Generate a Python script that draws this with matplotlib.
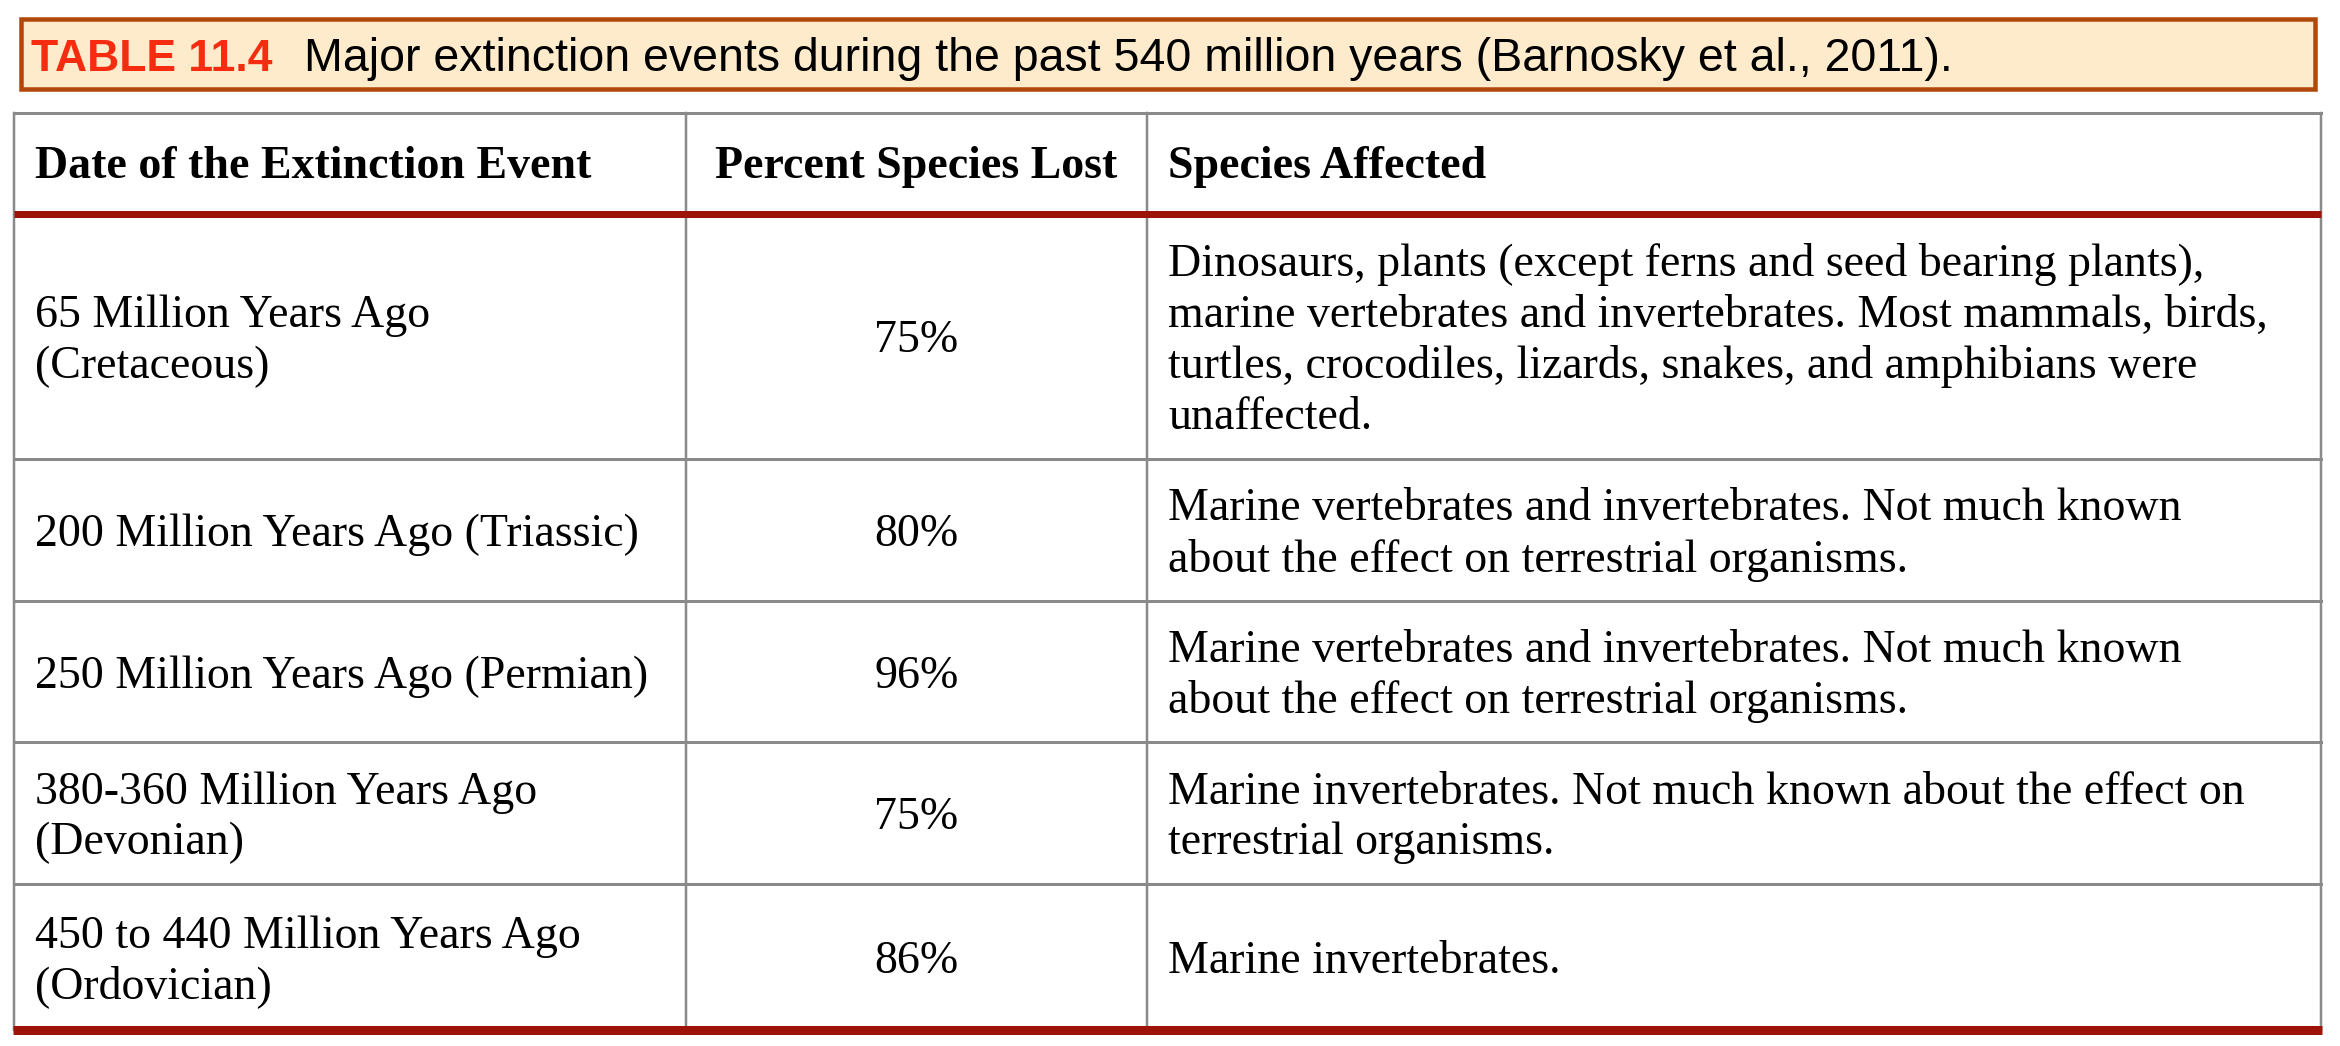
import matplotlib
matplotlib.use("Agg")
import matplotlib.pyplot as plt
from matplotlib.patches import Rectangle

# table content
title_label = "TABLE 11.4"
title_text = "Major extinction events during the past 540 million years (Barnosky et al., 2011)."
headers = ["Date of the Extinction Event", "Percent Species Lost", "Species Affected"]
dates = [
    "65 Million Years Ago\n(Cretaceous)",
    "200 Million Years Ago (Triassic)",
    "250 Million Years Ago (Permian)",
    "380-360 Million Years Ago\n(Devonian)",
    "450 to 440 Million Years Ago\n(Ordovician)",
]
percent_lost = [75, 80, 96, 75, 86]
species_affected = [
    "Dinosaurs, plants (except ferns and seed bearing plants),\n"
    "marine vertebrates and invertebrates. Most mammals, birds,\n"
    "turtles, crocodiles, lizards, snakes, and amphibians were\n"
    "unaffected.",
    "Marine vertebrates and invertebrates. Not much known\n"
    "about the effect on terrestrial organisms.",
    "Marine vertebrates and invertebrates. Not much known\n"
    "about the effect on terrestrial organisms.",
    "Marine invertebrates. Not much known about the effect on\n"
    "terrestrial organisms.",
    "Marine invertebrates.",
]

W, H = 2340, 1046
fig = plt.figure(figsize=(W / 100, H / 100), dpi=100)
ax = fig.add_axes([0, 0, 1, 1])
ax.set_xlim(0, W)
ax.set_ylim(H, 0)
ax.axis("off")

PX = 0.72  # points per pixel at dpi 100
SERIF = "Liberation Serif"
SANS = "Liberation Sans"
RED = "#9c1407"
GRAY = "#8a8a8a"

# title box
ax.add_patch(Rectangle((21, 19), 2294, 70, facecolor="#fdebcb",
                       edgecolor="#b0480a", linewidth=4.5 * PX))
t1 = ax.text(31, 71, title_label, fontsize=32, fontweight="bold",
             color="#f52c10", family=SANS, va="baseline")
fig.canvas.draw()
bb = t1.get_window_extent().transformed(ax.transData.inverted())
ax.text(bb.x1 + 31, 71, title_text, fontsize=33.5, color="black",
        family=SANS, va="baseline")

# grid geometry
col_edges = [14, 686, 1147, 2321]
row_edges = [113, 214, 459, 601, 742, 884, 1030]
line_gap = 51
pad = 21


def cell_text(txt, col, r0, r1, bold=False, cap=16):
    lines = txt.split("\n")
    mid = (r0 + r1) / 2 + cap
    first = mid - (len(lines) - 1) * line_gap / 2
    for i, ln in enumerate(lines):
        y = first + i * line_gap
        if col == 1:
            x, ha = (col_edges[1] + col_edges[2]) / 2, "center"
        else:
            x, ha = col_edges[col] + pad, "left"
        ax.text(x, y, ln, fontsize=33, family=SERIF, ha=ha, va="baseline",
                fontweight="bold" if bold else "normal", color="black")


# header
for c, h in enumerate(headers):
    cell_text(h, c, row_edges[0], row_edges[1], bold=True, cap=14)

# body rows
for r in range(len(dates)):
    r0, r1 = row_edges[r + 1], row_edges[r + 2]
    cell_text(dates[r], 0, r0, r1)
    cell_text(f"{percent_lost[r]}%", 1, r0, r1)
    cell_text(species_affected[r], 2, r0, r1)

# grid lines
ax.plot([col_edges[0], col_edges[-1]], [row_edges[0]] * 2, color=GRAY, lw=3 * PX)
for x in col_edges:
    ax.plot([x, x], [row_edges[0], row_edges[-1]], color=GRAY, lw=2.5 * PX)
for y in row_edges[2:-1]:
    ax.plot([col_edges[0], col_edges[-1]], [y, y], color=GRAY, lw=3 * PX)
ax.plot([col_edges[0], col_edges[-1]], [row_edges[1]] * 2, color=RED, lw=7 * PX,
        solid_capstyle="butt")
ax.plot([col_edges[0] - 1, col_edges[-1] + 1], [row_edges[-1]] * 2, color=RED,
        lw=9 * PX, solid_capstyle="butt")

fig.savefig("out.png", dpi=100, facecolor="white")
